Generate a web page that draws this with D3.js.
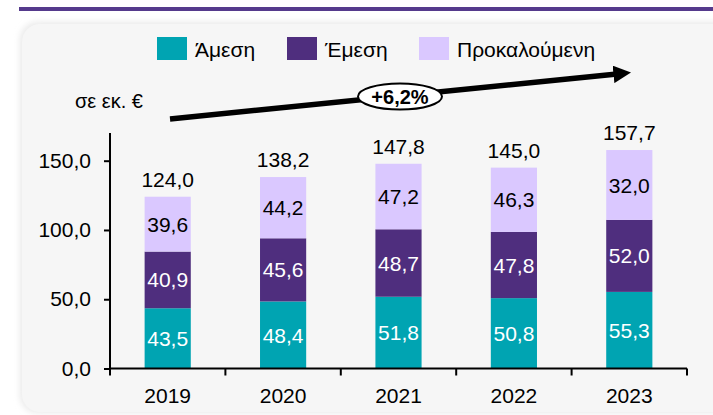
<!DOCTYPE html>
<html>
<head>
<meta charset="utf-8">
<script src="https://cdn.jsdelivr.net/npm/d3@7"></script>
<style>
  html, body { margin: 0; padding: 0; background: #fff; }
  svg { display: block; font-family: "Liberation Sans", Arial, sans-serif; }
</style>
</head>
<body>
<div id="chart"></div>
<script>
// data
const years = ["2019", "2020", "2021", "2022", "2023"];
const seriesNames = ["Άμεση", "Έμεση", "Προκαλούμενη"];
const direct = [43.5, 48.4, 51.8, 50.8, 55.3];
const indirect = [40.9, 45.6, 48.7, 47.8, 52.0];
const induced = [39.6, 44.2, 47.2, 46.3, 32.0];
const totals = [124.0, 138.2, 147.8, 145.0, 157.7];
const yTicks = [0, 50, 100, 150];
const colors = ["#00a4b2", "#4f2e7e", "#dac8ff"];
const labelColors = ["#fff", "#fff", "#000"];
const growthLabel = "+6,2%";
const unitLabel = "σε εκ. €";

const width = 713, height = 415;
const margin = { left: 110, right: 26, top: 133, bottom: 46.5 };
const fmt = (v) => d3.format(".1f")(v).replace(".", ",");

const svg = d3.select("#chart").append("svg")
  .attr("width", width)
  .attr("height", height);

const defs = svg.append("defs");
defs.append("filter").attr("id", "soft")
  .attr("x", "-10%").attr("y", "-10%").attr("width", "120%").attr("height", "120%")
  .append("feGaussianBlur").attr("stdDeviation", 3);

// panel + top rule
svg.append("rect")
  .attr("x", 20).attr("y", 22)
  .attr("width", 720).attr("height", 391)
  .attr("rx", 18)
  .attr("fill", "#e9e9e9")
  .attr("filter", "url(#soft)");
svg.append("rect")
  .attr("x", 22).attr("y", 24)
  .attr("width", 720).attr("height", 388)
  .attr("rx", 18)
  .attr("fill", "#f6f6f6");
svg.append("rect")
  .attr("x", 19).attr("y", 7)
  .attr("width", width - 19).attr("height", 4)
  .attr("fill", "#553a8c");

const x = d3.scaleBand()
  .domain(years)
  .range([margin.left, width - margin.right])
  .paddingInner(0.6)
  .paddingOuter(0.3);

const y = d3.scaleLinear()
  .domain([0, 170])
  .range([height - margin.bottom, margin.top]);

// stacked segments; the top one runs up to the printed total
const rows = years.map((yr, i) => ({
  year: yr,
  parts: [direct[i], indirect[i], induced[i]],
  total: totals[i]
}));
const segs = [];
rows.forEach((r) => {
  let y0 = 0;
  r.parts.forEach((v, k) => {
    const y1 = k === r.parts.length - 1 ? r.total : y0 + v;
    segs.push({ year: r.year, k, v, y0, y1 });
    y0 = y1;
  });
});

const g = svg.append("g");

g.selectAll("rect.seg")
  .data(segs)
  .join("rect")
  .attr("class", "seg")
  .attr("x", (d) => x(d.year))
  .attr("width", x.bandwidth())
  .attr("y", (d) => y(d.y1))
  .attr("height", (d) => y(d.y0) - y(d.y1))
  .attr("fill", (d) => colors[d.k]);

g.selectAll("text.seg-label")
  .data(segs)
  .join("text")
  .attr("class", "seg-label")
  .attr("x", (d) => x(d.year) + x.bandwidth() / 2)
  .attr("y", (d) => (y(d.y0) + y(d.y1)) / 2)
  .attr("dy", "0.36em")
  .attr("text-anchor", "middle")
  .attr("font-size", 21)
  .attr("fill", (d) => labelColors[d.k])
  .text((d) => fmt(d.v));

g.selectAll("text.total")
  .data(rows)
  .join("text")
  .attr("class", "total")
  .attr("x", (d) => x(d.year) + x.bandwidth() / 2)
  .attr("y", (d) => y(d.total) - 10)
  .attr("text-anchor", "middle")
  .attr("font-size", 21)
  .attr("fill", "#000")
  .text((d) => fmt(d.total));

// y axis
const yAxis = svg.append("g")
  .attr("transform", `translate(${margin.left},0)`)
  .call(d3.axisLeft(y).tickValues(yTicks).tickSize(6).tickPadding(13).tickFormat(fmt));
yAxis.select(".domain").attr("stroke", "#000").attr("stroke-width", 2)
  .attr("d", `M0,${y(170)}V${y(0)}`);
yAxis.selectAll(".tick line").attr("stroke", "#000").attr("stroke-width", 2);
yAxis.selectAll(".tick text").attr("font-size", 21).attr("fill", "#000")
  .attr("font-family", "Liberation Sans, Arial, sans-serif");

// x axis with ticks at the band boundaries
const xAxisG = svg.append("g").attr("transform", `translate(0,${y(0)})`);
const step = x.step();
const bounds = d3.range(years.length + 1).map((i) => margin.left + i * step);
xAxisG.append("line")
  .attr("x1", bounds[0]).attr("x2", bounds[bounds.length - 1])
  .attr("stroke", "#000").attr("stroke-width", 2);
xAxisG.selectAll("line.tk")
  .data(bounds)
  .join("line")
  .attr("class", "tk")
  .attr("x1", (d) => d).attr("x2", (d) => d)
  .attr("y1", 0).attr("y2", 7)
  .attr("stroke", "#000").attr("stroke-width", 2);
xAxisG.selectAll("text")
  .data(years)
  .join("text")
  .attr("x", (d) => x(d) + x.bandwidth() / 2)
  .attr("y", 34)
  .attr("text-anchor", "middle")
  .attr("font-size", 21)
  .text((d) => d);

// legend
const legendX = [157, 287, 419];
const legend = svg.append("g");
legend.selectAll("rect")
  .data(seriesNames)
  .join("rect")
  .attr("x", (d, i) => legendX[i])
  .attr("y", 37)
  .attr("width", 30).attr("height", 23)
  .attr("fill", (d, i) => colors[i]);
legend.selectAll("text")
  .data(seriesNames)
  .join("text")
  .attr("x", (d, i) => legendX[i] + 38)
  .attr("y", 57)
  .attr("font-size", 21)
  .text((d) => d);

// unit label
svg.append("text")
  .attr("x", 75).attr("y", 108)
  .attr("font-size", 20)
  .text(unitLabel);

// growth arrow
const arrow = { x1: 170, y1: 119, x2: 617, y2: 74, tipX: 633, tipY: 72 };
defs.append("marker")
  .attr("id", "head")
  .attr("viewBox", "0 0 10 10")
  .attr("refX", 2).attr("refY", 5)
  .attr("markerWidth", 3.2).attr("markerHeight", 3.2)
  .attr("orient", "auto")
  .append("path").attr("d", "M0,0L10,5L0,10Z").attr("fill", "#000");
svg.append("line")
  .attr("x1", arrow.x1).attr("y1", arrow.y1)
  .attr("x2", arrow.x2).attr("y2", arrow.y2)
  .attr("stroke", "#000").attr("stroke-width", 5.5)
  .attr("marker-end", "url(#head)");
svg.append("ellipse")
  .attr("cx", 400).attr("cy", 96.5)
  .attr("rx", 42).attr("ry", 13)
  .attr("fill", "#fff").attr("stroke", "#000").attr("stroke-width", 2);
svg.append("text")
  .attr("x", 400).attr("y", 96.5)
  .attr("dy", "0.36em")
  .attr("text-anchor", "middle")
  .attr("font-size", 20)
  .attr("font-weight", "bold")
  .text(growthLabel);
</script>
</body>
</html>
